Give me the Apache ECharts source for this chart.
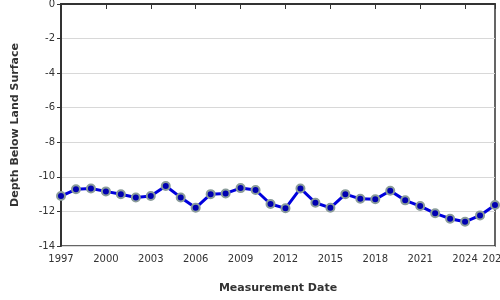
<!DOCTYPE html>
<html><head><meta charset="utf-8">
<script src="https://cdn.jsdelivr.net/npm/echarts@6/dist/echarts.min.js"></script>
<style>html,body{margin:0;padding:0;background:#fff}#c{width:500px;height:300px}</style>
</head><body><div id="c"></div>
<script>
const years = [1997,1998,1999,2000,2001,2002,2003,2004,2005,2006,2007,2008,2009,2010,2011,2012,2013,2014,2015,2016,2017,2018,2019,2020,2021,2022,2023,2024,2025,2026];
const depths = [-11.11,-10.72,-10.67,-10.84,-11.01,-11.19,-11.11,-10.53,-11.19,-11.79,-11.0,-10.96,-10.65,-10.76,-11.57,-11.82,-10.67,-11.5,-11.79,-11.0,-11.27,-11.3,-10.8,-11.36,-11.69,-12.11,-12.42,-12.6,-12.23,-11.63];
const yTicks = [0,-2,-4,-6,-8,-10,-12,-14];

const chart = echarts.init(document.getElementById('c'), null, {renderer:'canvas'});
chart.setOption({
  animation:false,
  textStyle:{fontFamily:'DejaVu Sans'},
  grid:{left:61,top:4,right:5,bottom:54,outerBoundsMode:'none',containLabel:false,show:true,borderColor:'#333',borderWidth:1.5,backgroundColor:'transparent'},
  xAxis:{
    type:'value',min:1997,max:2026,interval:3,
    name:'Measurement Date',nameLocation:'middle',nameGap:37,
    nameTextStyle:{fontWeight:'bold',fontSize:11,color:'#333',fontFamily:'DejaVu Sans'},
    axisLine:{show:true,lineStyle:{color:'#333',width:2}},
    axisTick:{show:true,length:5,lineStyle:{color:'#333'}},
    axisLabel:{color:'#333',fontSize:10,margin:8,formatter:v=>String(v),showMaxLabel:true,hideOverlap:false},
    splitLine:{show:false}
  },
  yAxis:{
    type:'value',min:-14,max:0,interval:2,
    name:'Depth Below Land Surface',nameLocation:'middle',nameGap:40,
    nameTextStyle:{fontWeight:'bold',fontSize:11,color:'#333',fontFamily:'DejaVu Sans'},
    axisLine:{show:true,lineStyle:{color:'#333',width:2}},
    axisTick:{show:true,length:4,lineStyle:{color:'#333'}},
    axisLabel:{color:'#333',fontSize:10,margin:6,formatter:v=>String(v)},
    splitLine:{show:true,lineStyle:{color:'#d8d8d8',width:1}}
  },
  series:[{
    type:'line',
    data:years.map((y,i)=>[y,depths[i]]),
    symbol:'circle',symbolSize:8,
    lineStyle:{color:'#0000dd',width:3},
    itemStyle:{color:'#0000b0',borderColor:'#8a9c9a',borderWidth:2},
    z:3
  }]
});
</script></body></html>
